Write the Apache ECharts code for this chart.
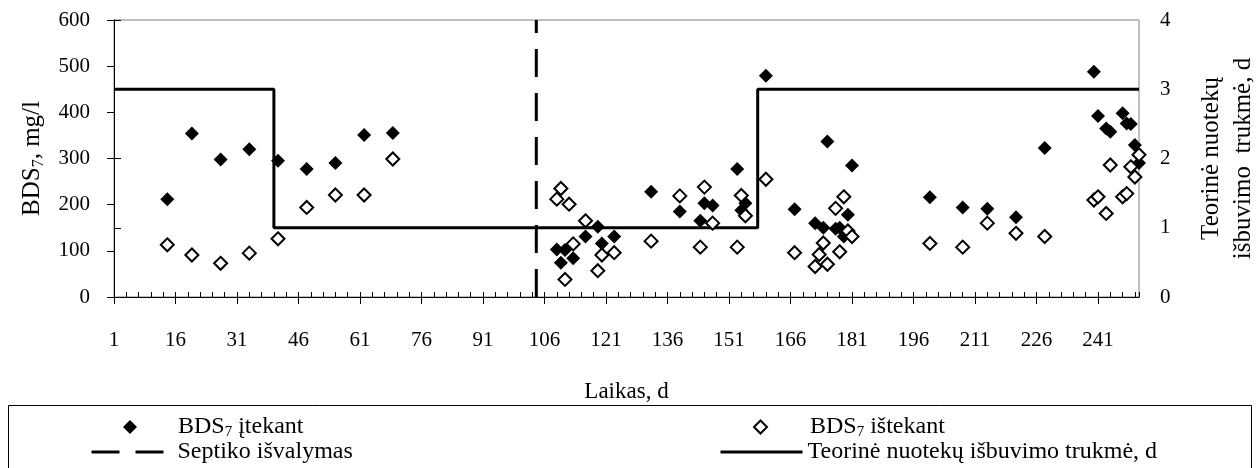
<!DOCTYPE html>
<html>
<head>
<meta charset="utf-8">
<script src="https://cdn.jsdelivr.net/npm/echarts@6/dist/echarts.min.js"></script>
<style>
  html, body { margin: 0; padding: 0; background: #ffffff; }
  #main { width: 1258px; height: 468px; }
</style>
</head>
<body>
<div id="main"></div>
<script>
// BDS7 itekant (filled diamonds)
var inDays = [14, 20, 27, 34, 41, 48, 55, 62, 69,
  109, 110, 111, 113, 116, 119, 120, 123,
  132, 139, 144, 145, 147, 153, 154, 155, 160, 167,
  172, 174, 175, 177, 178, 179, 180, 181,
  200, 208, 214, 221, 228,
  240, 241, 243, 244, 247, 248, 249, 250, 251];
var inVals = [212, 354, 298, 320, 295, 277, 290, 351, 355,
  103, 74, 102, 84, 131, 152, 116, 131,
  228, 185, 165, 203, 198, 277, 188, 203, 479, 190,
  160, 150, 337, 148, 150, 131, 178, 285,
  216, 194, 191, 173, 323,
  488, 392, 365, 358, 398, 376, 375, 329, 290];

// BDS7 istekant (open diamonds)
var outDays = [14, 20, 27, 34, 41, 48, 55, 62, 69,
  109, 110, 111, 112, 113, 116, 119, 120, 123,
  132, 139, 144, 145, 147, 153, 154, 155, 160, 167,
  172, 173, 174, 175, 177, 178, 179, 180, 181,
  200, 208, 214, 221, 228,
  240, 241, 243, 244, 247, 248, 249, 250, 251];
var outVals = [113, 91, 73, 95, 126, 194, 221, 221, 299,
  212, 235, 38, 201, 115, 165, 57, 91, 96,
  121, 219, 108, 238, 160, 108, 220, 176, 255, 96,
  66, 92, 117, 71, 192, 98, 217, 143, 131,
  116, 108, 160, 138, 131,
  210, 217, 181, 286, 217, 224, 282, 260, 308];

// teorine isbuvimo trukme, d (right axis)
var stepDays = [1, 40, 40, 158, 158, 251];
var stepVals = [3, 3, 1, 1, 3, 3];

// septiko isvalymas
var cleanDays = [104, 104];
var cleanVals = [0, 600];

var lastDay = 251;

function pts(days, vals) {
  // axis counts from day 1 -> shift so ticks start at 0
  return days.map(function (d, i) { return [d - 1, vals[i]]; });
}

var font = 'Liberation Serif';
var nameRich = {
  b: { fontFamily: font, fontSize: 25, color: '#000', lineHeight: 30 },
  s: { fontFamily: font, fontSize: 16, color: '#000', lineHeight: 16, verticalAlign: 'bottom' }
};
var legRich = {
  b: { fontFamily: font, fontSize: 24, color: '#000', lineHeight: 26 },
  s: { fontFamily: font, fontSize: 15, color: '#000', lineHeight: 15, verticalAlign: 'bottom' },
  sp: { width: 36 },
  sp2: { width: 38 },
  sp3: { width: 9 }
};

var chart = echarts.init(document.getElementById('main'));

var option = {
  animation: false,
  backgroundColor: '#ffffff',
  textStyle: { fontFamily: font, color: '#000' },
  grid: {
    left: 114, right: 119, top: 20, bottom: 171,
    outerBoundsMode: 'none',
    show: true, borderColor: '#808080', borderWidth: 1
  },
  xAxis: [
    {
      type: 'value', min: 0, max: lastDay - 1, interval: 15,
      name: 'Laikas, d', nameLocation: 'middle', nameGap: 82,
      nameTextStyle: { fontFamily: font, fontSize: 23, color: '#000', lineHeight: 26 },
      axisLine: { lineStyle: { color: '#000', width: 1 } },
      axisTick: { length: 7, lineStyle: { color: '#000' } },
      axisLabel: {
        margin: 33, fontSize: 21, color: '#000', fontFamily: font,
        showMaxLabel: false,
        formatter: function (v) { return v % 15 === 0 ? String(v + 1) : ''; }
      },
      splitLine: { show: false }
    },
    {
      type: 'value', min: 0, max: lastDay - 1, interval: 3, position: 'bottom',
      axisLine: { show: false },
      axisTick: { inside: true, length: 5, lineStyle: { color: '#000' } },
      axisLabel: { show: false },
      splitLine: { show: false }
    }
  ],
  yAxis: [
    {
      type: 'value', min: 0, max: 600, interval: 100, position: 'left',
      name: '{b|BDS}{s|7}{b|, mg/l}', nameLocation: 'middle', nameGap: 67, nameRotate: 90,
      nameTextStyle: { rich: nameRich },
      axisLine: { show: true, lineStyle: { color: '#000', width: 1 } },
      axisTick: { show: true, length: 7, lineStyle: { color: '#000' } },
      axisLabel: { margin: 24, fontSize: 21, color: '#000', fontFamily: font },
      splitLine: { show: false }
    },
    {
      type: 'value', min: 0, max: 4, interval: 1, position: 'right',
      name: 'Teorinė nuotekų\nišbuvimo  trukmė, d', nameLocation: 'middle', nameGap: 56, nameRotate: 90,
      nameTextStyle: { fontFamily: font, fontSize: 25, color: '#000', lineHeight: 32 },
      axisLine: { show: true, lineStyle: { color: '#000', width: 1 } },
      axisTick: { show: true, length: 7, lineStyle: { color: '#000' } },
      axisLabel: { margin: 21, fontSize: 21, color: '#000', fontFamily: font },
      splitLine: { show: false }
    }
  ],
  legend: [
    {
      data: ['BDS7 įtekant'], left: 123, top: 415, padding: 0,
      itemWidth: 14, itemHeight: 14, icon: 'diamond',
      formatter: function () { return '{sp| }{b|BDS}{s|7}{b| įtekant}'; },
      textStyle: { rich: legRich }
    },
    {
      data: ['BDS7 ištekant'], left: 753, top: 415, padding: 0,
      itemWidth: 13, itemHeight: 13, icon: 'diamond',
      itemStyle: { borderWidth: 2 },
      formatter: function () { return '{sp2| }{b|BDS}{s|7}{b| ištekant}'; },
      textStyle: { rich: legRich }
    },
    {
      data: ['Septiko išvalymas'], left: 90, top: 440, padding: 0,
      itemWidth: 72, itemHeight: 14,
      lineStyle: { width: 3 }, itemStyle: { opacity: 0 },
      formatter: function (n) { return '{sp3| }{b|' + n + '}'; },
      textStyle: { rich: legRich }
    },
    {
      data: ['Teorinė nuotekų išbuvimo trukmė, d'], left: 719, top: 440, padding: 0,
      itemWidth: 82, itemHeight: 14,
      lineStyle: { width: 3 }, itemStyle: { opacity: 0 },
      formatter: function (n) { return '{b|' + n + '}'; },
      textStyle: { rich: legRich }
    }
  ],
  graphic: [
    {
      type: 'rect', silent: true,
      shape: { x: 8.5, y: 405.5, width: 1243, height: 80 },
      style: { fill: 'none', stroke: '#000', lineWidth: 1 }
    }
  ],
  series: [
    {
      name: 'Teorinė nuotekų išbuvimo trukmė, d', type: 'line', yAxisIndex: 1,
      data: pts(stepDays, stepVals), symbol: 'none',
      lineStyle: { color: '#000', width: 3 }, itemStyle: { color: '#000' }, z: 2
    },
    {
      name: 'Septiko išvalymas', type: 'line',
      data: pts(cleanDays, cleanVals), symbol: 'none',
      lineStyle: { color: '#000', width: 3, type: [28, 16] }, itemStyle: { color: '#000' }, z: 2
    },
    {
      name: 'BDS7 įtekant', type: 'scatter', symbol: 'diamond', symbolSize: 14,
      data: pts(inDays, inVals), itemStyle: { color: '#000', opacity: 1 }, z: 3
    },
    {
      name: 'BDS7 ištekant', type: 'scatter', symbol: 'diamond', symbolSize: 13,
      data: pts(outDays, outVals),
      itemStyle: { color: '#fff', borderColor: '#000', borderWidth: 2, opacity: 1 }, z: 4
    }
  ]
};

chart.setOption(option);
</script>
</body>
</html>
